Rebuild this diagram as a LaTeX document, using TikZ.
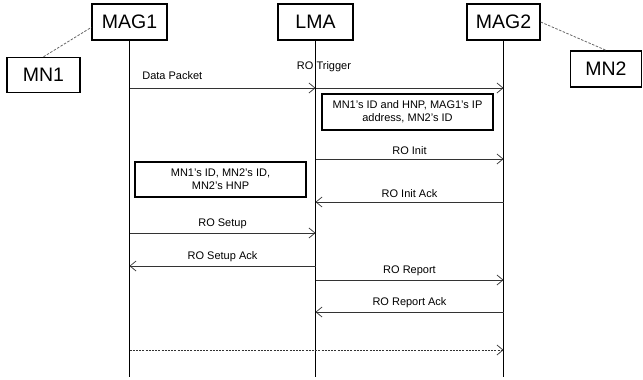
\documentclass[tikz,border=0pt]{standalone}
\usepackage{fontspec}
\setmainfont{Liberation Sans}
\usetikzlibrary{arrows.meta}
\tikzset{ent/.style={draw,line width=1.4pt,minimum width=75pt,minimum height=36pt,inner sep=1pt,font=\fontsize{19.5}{22}\selectfont},
 note/.style={draw,line width=1.4pt,align=center,inner sep=1pt,font=\fontsize{11}{13}\selectfont},
 life/.style={line width=1.4pt},
 ar/.style={line width=0.7pt,draw=black!80,-{Straight Barb[length=6pt,width=10pt,line width=0.7pt]}},
 lb/.style={font=\fontsize{11}{13}\selectfont,midway,above=3pt,inner sep=1pt,text=black},
 ln/.style={dashed,dash pattern=on 2.5pt off 1.5pt,line width=0.8pt,draw=black!60}}
\begin{document}
\begin{tikzpicture}[x=1pt,y=-1pt]
\useasboundingbox (0,0) rectangle (643,380);
\node[ent](mag1) at (129.5,22){MAG1};\node[ent](lma) at (315.5,22){LMA};\node[ent,minimum width=73pt](mag2) at (503.5,22){MAG2};
\node[ent,minimum width=73pt,minimum height=35pt](mn1) at (43.5,75){MN1};\node[ent,minimum width=71pt](mn2) at (606,69){MN2};
\draw[ln](mn1.north)--(mag1.188);\draw[ln](mag2.east)--(mn2.north);
% lifelines
\coordinate (bot) at (0,377);
\draw[life](mag1.south)--(mag1|-bot);\draw[life](lma.south)--(lma|-bot);\draw[life](mag2.south)--(mag2|-bot);
% message levels
\coordinate (y1) at (0,88);\coordinate (y2) at (0,159);\coordinate (y3) at (0,202);\coordinate (y4) at (0,233);
\coordinate (y5) at (0,266);\coordinate (y6) at (0,280);\coordinate (y7) at (0,312);\coordinate (y8) at (0,350);
\draw[ar](mag1|-y1)--node[lb,pos=0.23,above=4pt]{Data Packet}(lma|-y1);
\draw[ar](lma|-y1)--node[lb,pos=0.045,above=12pt]{RO Trigger}(mag2|-y1);
\node[note,minimum width=171pt,minimum height=36pt](n1) at (407.5,112){MN1’s ID and HNP, MAG1’s IP\\address, MN2’s ID};
\draw[ar](lma|-y2)--node[lb]{RO Init}(mag2|-y2);
\node[note,minimum width=171pt,minimum height=35pt](n2) at (220.5,179.5){MN1’s ID, MN2’s ID,\\MN2’s HNP};
\draw[ar](mag2|-y3)--node[lb]{RO Init Ack}(lma|-y3);
\draw[ar](mag1|-y4)--node[lb]{RO Setup}(lma|-y4);
\draw[ar](lma|-y5)--node[lb]{RO Setup Ack}(mag1|-y5);
\draw[ar](lma|-y6)--node[lb]{RO Report}(mag2|-y6);
\draw[ar](mag2|-y7)--node[lb]{RO Report Ack}(lma|-y7);
\draw[ar,dashed,dash pattern=on 2pt off 1.2pt](mag1|-y8)--(mag2|-y8);
\end{tikzpicture}
\end{document}
